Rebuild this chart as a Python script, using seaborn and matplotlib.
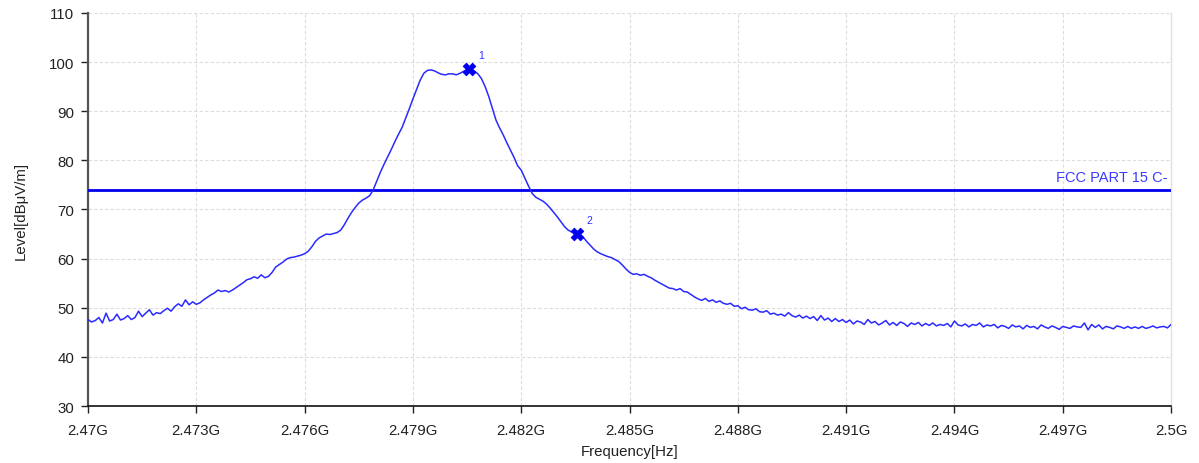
import matplotlib

matplotlib.use("Agg")
import matplotlib.pyplot as plt
import numpy as np
import pandas
import seaborn as sns
from matplotlib.ticker import FuncFormatter

# Sweep: 2.470 GHz to 2.500 GHz, one level reading every 0.1 MHz
start_hz = 2.470e9
stop_hz = 2.500e9

# Level readings in dBuV/m, 10 per row (row = 1 MHz)
level = [
    47.6, 47.1, 47.4, 48.0, 46.9, 48.9, 47.3, 47.6, 48.7, 47.5,  # 2470
    47.8, 48.4, 47.6, 48.0, 49.3, 48.2, 48.9, 49.6, 48.5, 49.0,  # 2471
    48.8, 49.4, 49.9, 49.3, 50.2, 50.8, 50.3, 51.6, 50.6, 51.2,  # 2472
    50.7, 51.0, 51.6, 52.1, 52.6, 53.0, 53.6, 53.3, 53.5, 53.2,  # 2473
    53.6, 54.1, 54.6, 55.1, 55.7, 55.9, 56.3, 56.0, 56.7, 56.1,  # 2474
    56.4, 57.2, 58.3, 58.8, 59.3, 59.9, 60.2, 60.3, 60.5, 60.7,  # 2475
    61.0, 61.5, 62.4, 63.5, 64.2, 64.6, 65.0, 64.9, 65.1, 65.3,  # 2476
    65.8, 66.9, 68.2, 69.4, 70.4, 71.3, 71.9, 72.3, 72.8, 74.0,  # 2477
    75.8, 77.6, 79.2, 80.7, 82.2, 83.8, 85.3, 86.7, 88.6, 90.5,  # 2478
    92.5, 94.4, 96.3, 97.7, 98.3, 98.4, 98.2, 97.8, 97.5, 97.4,  # 2479
    97.6, 97.6, 97.4, 97.7, 98.1, 98.5, 98.6, 98.2, 97.6, 96.6,  # 2480
    95.0, 93.0, 90.6, 88.2, 86.6, 85.2, 83.6, 82.1, 80.6, 78.9,  # 2481
    78.0, 76.4, 74.8, 73.3, 72.5, 72.1, 71.7, 71.1, 70.3, 69.4,  # 2482
    68.5, 67.5, 66.5, 65.8, 65.4, 65.1, 65.0, 64.5, 63.6, 62.8,  # 2483
    62.0, 61.4, 61.0, 60.7, 60.4, 60.2, 59.8, 59.4, 58.7, 57.9,  # 2484
    57.2, 56.8, 56.9, 56.6, 56.8, 56.4, 56.1, 55.6, 55.2, 54.8,  # 2485
    54.4, 54.0, 53.9, 53.6, 53.9, 53.3, 53.2, 52.7, 52.2, 51.8,  # 2486
    51.5, 51.9, 51.3, 51.6, 51.1, 51.4, 50.9, 50.7, 50.9, 50.3,  # 2487
    50.4, 49.8, 50.1, 49.6, 49.5, 49.8, 49.2, 49.1, 49.4, 48.7,  # 2488
    48.9, 48.5, 48.7, 48.3, 49.0, 48.4, 48.1, 48.5, 47.9, 48.3,  # 2489
    47.8, 48.2, 47.4, 48.4, 47.5, 47.9, 47.2, 47.8, 47.2, 47.6,  # 2490
    47.0, 47.5, 46.7, 47.3, 47.1, 46.6, 47.6, 46.9, 47.2, 46.5,  # 2491
    46.9, 47.4, 46.5, 47.0, 46.4, 47.1, 46.8, 46.2, 46.9, 46.6,  # 2492
    47.0, 46.3, 46.8, 46.4, 46.9, 46.3, 46.6, 46.4, 46.8, 46.1,  # 2493
    47.3, 46.5, 46.3, 46.7, 46.1, 46.6, 46.4, 46.9, 46.1, 46.5,  # 2494
    46.3, 46.6, 45.9, 46.4, 46.2, 45.8, 46.5, 46.1, 46.3, 45.7,  # 2495
    46.4, 46.0, 46.2, 45.7, 46.5, 46.1, 45.8, 46.3, 46.0, 45.6,  # 2496
    46.2, 46.0, 45.8, 46.3, 46.1, 46.0, 46.9, 45.5, 46.6, 46.0,  # 2497
    46.5, 45.7, 46.2, 46.0, 45.7, 46.3, 46.1, 45.8, 46.2, 45.8,  # 2498
    46.1, 45.8, 46.2, 45.8, 46.0, 46.3, 45.9, 46.1, 46.2, 45.9,  # 2499
    46.6,
]

# Markers (frequency Hz, level dBuV/m)
marker_names = ["1", "2"]
marker_freq = [2.48055e9, 2.48355e9]
marker_level = [98.6, 65.0]

# Limit line
limit_name = "FCC PART 15 C-"
limit_level = 74.0

xticks = [2.470e9, 2.473e9, 2.476e9, 2.479e9, 2.482e9, 2.485e9,
          2.488e9, 2.491e9, 2.494e9, 2.497e9, 2.500e9]
yticks = [30, 40, 50, 60, 70, 80, 90, 100, 110]


def main():
    sns.set_theme(style="white")
    plt.rcParams["font.family"] = ["Liberation Sans", "DejaVu Sans"]

    df = pandas.DataFrame({
        "freq": np.linspace(start_hz, stop_hz, len(level)),
        "level": level,
    })

    fig = plt.figure(figsize=(11.99, 4.64), dpi=100)
    ax = fig.add_axes([0.0734, 0.1228, 0.9033, 0.8472])

    # grid first so it sits beneath the trace
    ax.set_axisbelow(True)
    ax.grid(True, color="#dcdcdc", linestyle=(0, (3, 2)), linewidth=0.8)

    ax.axhline(limit_level, color="#0000ee", linewidth=2.0, zorder=3)
    sns.lineplot(data=df, x="freq", y="level", color="#2a2aff",
                 linewidth=1.1, ax=ax, zorder=4)

    mk = pandas.DataFrame({"freq": marker_freq, "level": marker_level})
    sns.scatterplot(data=mk, x="freq", y="level", marker="X", s=80,
                    color="#0000ee", edgecolor="#0000ee", ax=ax, zorder=5)
    for name, f, lv in zip(marker_names, marker_freq, marker_level):
        ax.annotate(name, (f, lv), xytext=(7, 8), textcoords="offset points",
                    fontsize=7.5, color="#3030ff")

    ax.text(0.997, limit_level + 1.2, limit_name, transform=ax.get_yaxis_transform(),
            ha="right", va="bottom", fontsize=10.5, color="#3a3aff")

    ax.set_xlim(start_hz, stop_hz)
    ax.set_ylim(30, 110)
    ax.set_xticks(xticks)
    ax.set_yticks(yticks)
    ax.xaxis.set_major_formatter(FuncFormatter(lambda v, _: f"{v / 1e9:g}G"))
    ax.tick_params(axis="both", direction="out", length=5, width=1,
                   color="#222222", labelsize=10.8, labelcolor="#222222",
                   bottom=True, left=True)
    ax.tick_params(axis="x", pad=7)
    ax.tick_params(axis="y", pad=5)
    ax.set_xlabel("Frequency[Hz]", fontsize=10.8, color="#222222", labelpad=5)
    ax.set_ylabel("Level[dBμV/m]", fontsize=10.8, color="#222222", labelpad=15)

    ax.spines["top"].set_visible(False)
    ax.spines["right"].set_color("#e0e0e0")
    ax.spines["right"].set_linewidth(1.0)
    ax.spines["left"].set_color("#555555")
    ax.spines["left"].set_linewidth(1.6)
    ax.spines["bottom"].set_color("#111111")
    ax.spines["bottom"].set_linewidth(1.2)

    plt.savefig("out.png", dpi=100)
    plt.close()


if __name__ == "__main__":
    main()
